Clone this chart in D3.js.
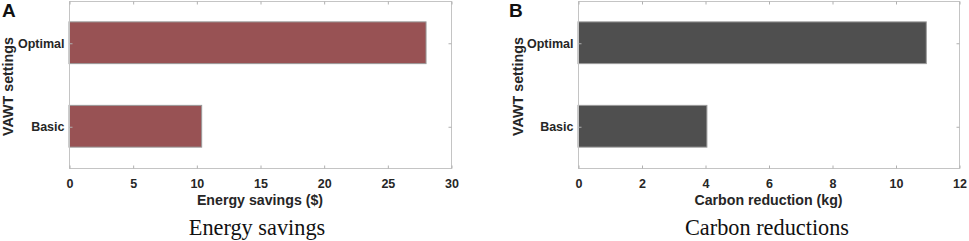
<!DOCTYPE html>
<html>
<head>
<meta charset="utf-8">
<script src="https://cdn.jsdelivr.net/npm/d3@7"></script>
<style>
  body { margin: 0; background: #fff; }
  svg { display: block; }
</style>
</head>
<body>
<script>
// data
var categories = ["Basic", "Optimal"];
var energySavings = [10.42, 28.04];
var carbonReduction = [4.06, 10.97];
var energyTicks = [0, 5, 10, 15, 20, 25, 30];
var carbonTicks = [0, 2, 4, 6, 8, 10, 12];

var W = 969, H = 241;

var svg = d3.select("body").append("svg")
  .attr("width", W)
  .attr("height", H);

var sans = "'Liberation Sans', Arial, sans-serif";
var serif = "'Liberation Serif', 'Times New Roman', serif";

function panel(opt) {
  var left = opt.left, right = opt.right, top = 1, bottom = 168;
  var g = svg.append("g");

  var x = d3.scaleLinear().domain(opt.domain).range([left, right]);
  // categories sit at 1 and 2, limits 0.5..2.5
  var y = d3.scaleLinear().domain([0.5, 2.5]).range([bottom, top]);
  var barH = y(0.5) - y(1);

  // bars
  g.selectAll("rect.bar")
    .data(opt.values)
    .enter()
    .append("rect")
    .attr("class", "bar")
    .attr("x", x(0))
    .attr("y", function(d, i) { return y(i + 1) - barH / 2; })
    .attr("width", function(d) { return x(d) - x(0); })
    .attr("height", barH)
    .attr("fill", opt.color)
    .attr("stroke", "#9a9a9a")
    .attr("stroke-width", 1);

  // box
  g.append("rect")
    .attr("x", left + 0.5).attr("y", top + 0.5)
    .attr("width", right - left).attr("height", bottom - top)
    .attr("fill", "none")
    .attr("stroke", "#c4c4c4")
    .attr("stroke-width", 1);

  // x axis bottom
  var xb = g.append("g")
    .attr("transform", "translate(0.5," + (bottom + 0.5) + ")")
    .call(d3.axisBottom(x).tickValues(opt.ticks).tickSizeInner(-3).tickSizeOuter(0).tickPadding(11));
  xb.select(".domain").remove();
  xb.selectAll(".tick line").attr("stroke", "#b0b0b0");
  xb.selectAll("text")
    .attr("font-family", sans).attr("font-weight", "bold")
    .attr("font-size", "12.5px").attr("fill", "#262626");

  // x axis top ticks
  var xt = g.append("g")
    .attr("transform", "translate(0.5," + (top + 0.5) + ")")
    .call(d3.axisTop(x).tickValues(opt.ticks).tickSizeInner(-3).tickSizeOuter(0).tickFormat(""));
  xt.select(".domain").remove();
  xt.selectAll(".tick line").attr("stroke", "#b0b0b0");

  // y axis left
  var yl = g.append("g")
    .attr("transform", "translate(" + (left + 0.5) + ",0.5)")
    .call(d3.axisLeft(y).tickValues([1, 2]).tickSizeInner(-3).tickSizeOuter(0).tickPadding(5)
      .tickFormat(function(d) { return categories[d - 1]; }));
  yl.select(".domain").remove();
  yl.selectAll(".tick line").attr("stroke", "#b0b0b0");
  yl.selectAll("text")
    .attr("font-family", sans).attr("font-weight", "bold")
    .attr("font-size", "12.5px").attr("fill", "#262626");

  // y axis right ticks
  var yr = g.append("g")
    .attr("transform", "translate(" + (right + 0.5) + ",0.5)")
    .call(d3.axisRight(y).tickValues([1, 2]).tickSizeInner(-3).tickSizeOuter(0).tickFormat(""));
  yr.select(".domain").remove();
  yr.selectAll(".tick line").attr("stroke", "#b0b0b0");

  // axis titles
  g.append("text")
    .attr("x", (left + right) / 2)
    .attr("y", 205)
    .attr("text-anchor", "middle")
    .attr("font-family", sans).attr("font-weight", "bold")
    .attr("font-size", "14.2px").attr("fill", "#262626")
    .text(opt.xlabel);

  g.append("text")
    .attr("transform", "translate(" + opt.ylabelX + "," + ((top + bottom) / 2 + 2) + ") rotate(-90)")
    .attr("text-anchor", "middle")
    .attr("font-family", sans).attr("font-weight", "bold")
    .attr("font-size", "14.3px").attr("fill", "#262626")
    .text("VAWT settings");

  // caption
  g.append("text")
    .attr("x", opt.captionX)
    .attr("y", 235)
    .attr("text-anchor", "middle")
    .attr("font-family", serif)
    .attr("font-size", "22.3px").attr("fill", "#111")
    .text(opt.caption);

  // panel letter
  g.append("text")
    .attr("x", opt.letterX)
    .attr("y", 17)
    .attr("font-family", sans).attr("font-weight", "bold")
    .attr("font-size", "19px").attr("fill", "#111")
    .text(opt.letter);
}

panel({
  left: 69, right: 451, domain: [0, 30], ticks: energyTicks,
  values: energySavings, color: "#985254",
  xlabel: "Energy savings ($)", ylabelX: 13,
  caption: "Energy savings", captionX: 257,
  letter: "A", letterX: 2
});

panel({
  left: 578, right: 959, domain: [0, 12], ticks: carbonTicks,
  values: carbonReduction, color: "#4f4f4f",
  xlabel: "Carbon reduction (kg)", ylabelX: 523,
  caption: "Carbon reductions", captionX: 767,
  letter: "B", letterX: 509
});
</script>
</body>
</html>
